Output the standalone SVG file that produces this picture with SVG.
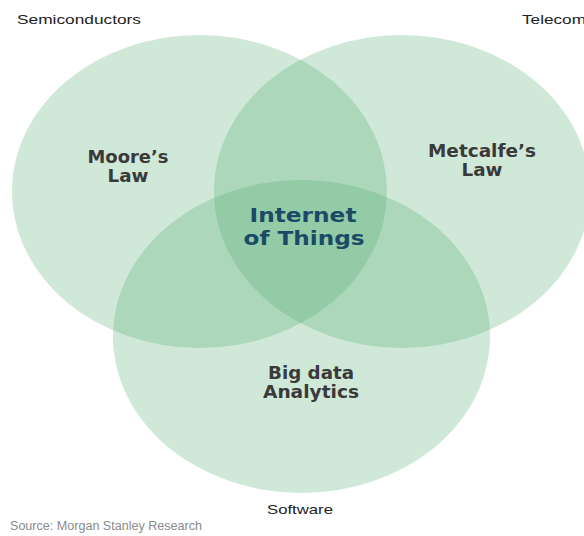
<svg xmlns="http://www.w3.org/2000/svg" width="584" height="536" viewBox="0 0 584 536">
<style>
.set{fill:#4daa6f;fill-opacity:0.27}
.cat{font-family:"Liberation Sans",Arial,sans-serif;font-size:13.5px;fill:#222}
.lbl{font-family:"DejaVu Sans",Verdana,sans-serif;font-weight:bold;font-size:17px;fill:#3a3a3a;text-anchor:middle}
.core{font-family:"DejaVu Sans",Verdana,sans-serif;font-weight:bold;font-size:19px;fill:#1b4a66;text-anchor:middle}
.src{font-family:"Liberation Sans",Arial,sans-serif;font-size:12px;fill:#8a8a8a}
</style>
<rect width="584" height="536" fill="#ffffff"/>
<g id="semiconductors">
<ellipse class="set" cx="199.5" cy="191.5" rx="187.5" ry="156.5"/>
<text class="cat" x="17" y="24" textLength="124" lengthAdjust="spacingAndGlyphs">Semiconductors</text>
<text class="lbl" x="128" y="163" textLength="81" lengthAdjust="spacingAndGlyphs">Moore’s</text>
<text class="lbl" x="128" y="182" textLength="41" lengthAdjust="spacingAndGlyphs">Law</text>
</g>
<g id="telecom">
<ellipse class="set" cx="402" cy="191.5" rx="188" ry="156.5"/>
<text class="cat" x="522" y="24" textLength="64" lengthAdjust="spacingAndGlyphs">Telecom</text>
<text class="lbl" x="482" y="157" textLength="108" lengthAdjust="spacingAndGlyphs">Metcalfe’s</text>
<text class="lbl" x="482" y="176" textLength="41" lengthAdjust="spacingAndGlyphs">Law</text>
</g>
<g id="software">
<ellipse class="set" cx="301.5" cy="336.5" rx="188.5" ry="156.5"/>
<text class="cat" x="300" y="514" text-anchor="middle" textLength="66" lengthAdjust="spacingAndGlyphs">Software</text>
<text class="lbl" x="311" y="379" textLength="86" lengthAdjust="spacingAndGlyphs">Big data</text>
<text class="lbl" x="311" y="398" textLength="96" lengthAdjust="spacingAndGlyphs">Analytics</text>
</g>
<g id="iot">
<text class="core" x="303" y="222" textLength="107" lengthAdjust="spacingAndGlyphs">Internet</text>
<text class="core" x="304" y="245" textLength="121" lengthAdjust="spacingAndGlyphs">of Things</text>
</g>
<g id="connectors"></g>
<text class="src" x="10" y="530" textLength="192" lengthAdjust="spacingAndGlyphs">Source: Morgan Stanley Research</text>
</svg>
